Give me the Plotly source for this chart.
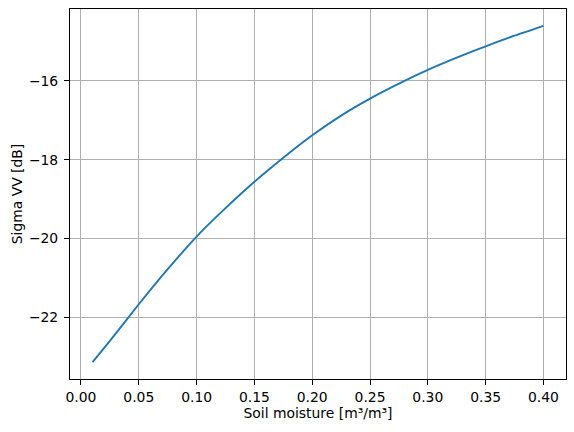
import plotly.graph_objects as go

soil_moisture = [0.01, 0.025, 0.05, 0.075, 0.10, 0.125, 0.15, 0.175, 0.20, 0.225, 0.25,
                 0.275, 0.30, 0.325, 0.35, 0.375, 0.40]
sigma_vv = [-23.14, -22.60, -21.67, -20.78, -19.95, -19.23, -18.56, -17.95, -17.38, -16.88, -16.45,
            -16.07, -15.72, -15.41, -15.12, -14.85, -14.60]
x_ticks = [0.00, 0.05, 0.10, 0.15, 0.20, 0.25, 0.30, 0.35, 0.40]
y_ticks = [-22, -20, -18, -16]

fig = go.Figure()
fig.add_trace(go.Scatter(x=soil_moisture, y=sigma_vv, mode="lines",
                         line=dict(color="#1f77b4", width=1.9, shape="spline", smoothing=0.7),
                         showlegend=False))

xr = max(soil_moisture) - min(soil_moisture)
yr = max(sigma_vv) - min(sigma_vv)
font = dict(family="DejaVu Sans", size=13.9, color="black")
axis_common = dict(showline=True, linecolor="black", linewidth=1, mirror=True,
                   ticks="outside", ticklen=5, tickcolor="black", tickwidth=1,
                   showgrid=True, gridcolor="#b0b0b0", gridwidth=1, zeroline=False,
                   tickfont=font)
fig.update_layout(
    width=574, height=432,
    margin=dict(l=70, r=8, t=9, b=53),
    paper_bgcolor="white", plot_bgcolor="white",
    font=font,
    xaxis=dict(axis_common, range=[min(soil_moisture) - 0.05 * xr, max(soil_moisture) + 0.05 * xr],
               tickvals=x_ticks, ticktext=[f"{v:.2f}" for v in x_ticks],
               title=dict(text="Soil moisture [m³/m³]", font=font, standoff=4)),
    yaxis=dict(axis_common, range=[min(sigma_vv) - 0.05 * yr, max(sigma_vv) + 0.05 * yr],
               tickvals=y_ticks, ticktext=[f"−{abs(v)}" for v in y_ticks],
               ticklabelstandoff=3,
               title=dict(text="Sigma VV [dB]", font=font, standoff=3)),
)
fig.write_html("out.html")
